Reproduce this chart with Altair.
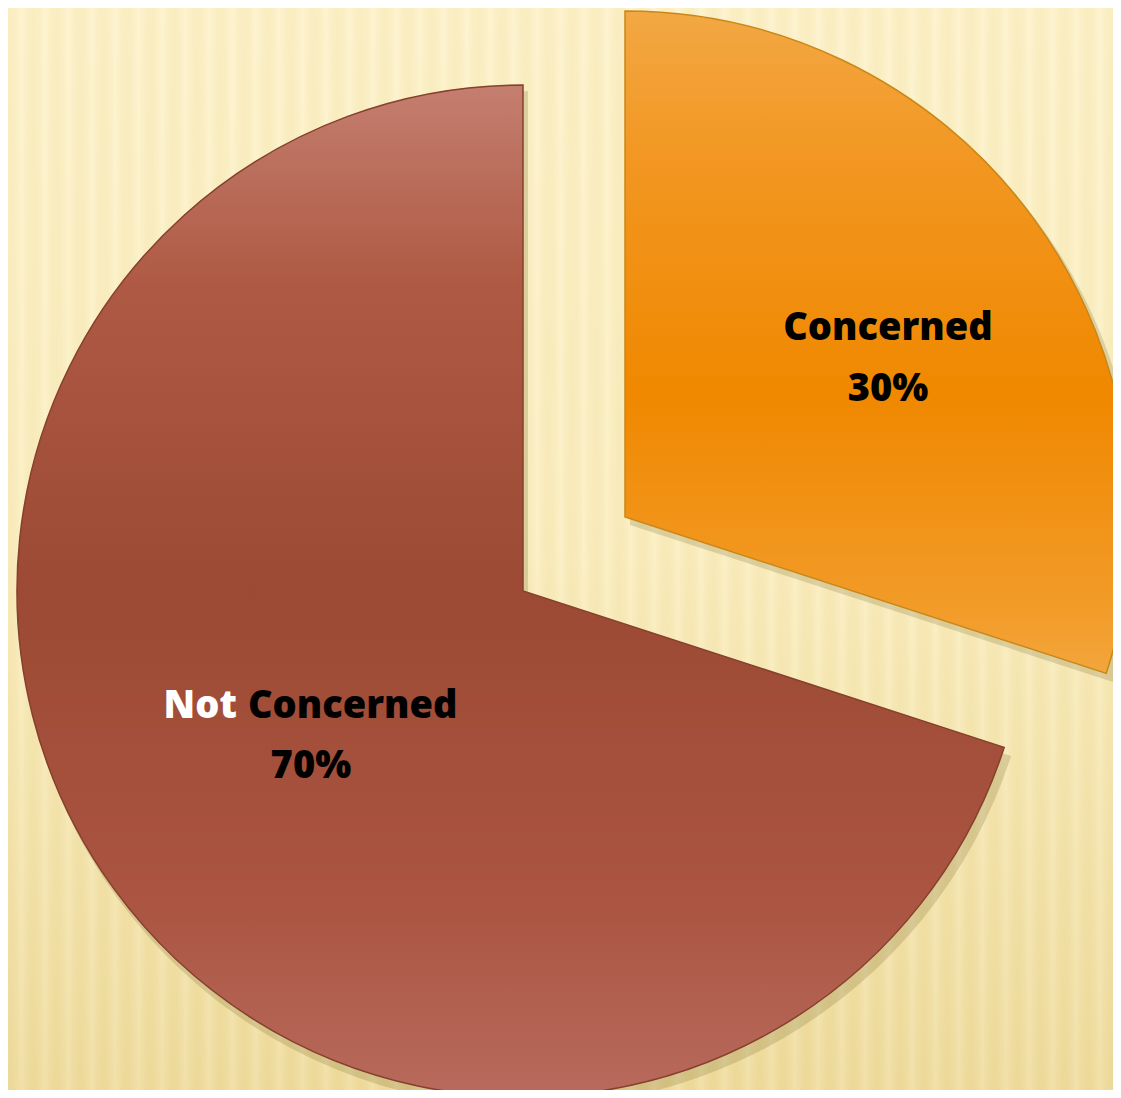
import altair as alt
import pandas as pd
import math

# ---- data ----
categories = ["Concerned", "Not Concerned"]
values = [30, 70]

df = pd.DataFrame({"category": categories, "value": values})
df["first"] = [c.split(" ")[0] if " " in c else "" for c in categories]
df["rest"] = [c.split(" ", 1)[1] if " " in c else c for c in categories]

W, H = 1105, 1082
R = 506
centers = {"Not Concerned": (515, 583), "Concerned": (617, 509)}

theta_scale = alt.Scale(domain=[0, 1], range=[0, 2 * math.pi])

base = (
    alt.Chart(df)
    .transform_joinaggregate(total="sum(value)")
    .transform_window(cum="sum(value)", frame=[None, 0])
    .transform_calculate(
        f_end="datum.cum / datum.total",
        f_start="(datum.cum - datum.value) / datum.total",
        f_mid="(datum.cum - datum.value / 2) / datum.total",
        pct="format(datum.value / datum.total, '.0%')",
    )
)

def grad_v(stops):
    return alt.LinearGradient(
        gradient="linear",
        stops=[alt.GradientStop(offset=o, color=c) for o, c in stops],
        x1=0, x2=0, y1=0, y2=1,
    )

# background
bg_df = pd.DataFrame({"k": [0]})
bg = alt.Chart(bg_df).mark_rect(
    color=grad_v([(0, "#fdf2c9"), (0.5, "#fbeebf"), (1, "#efdc9d")])
).encode(x=alt.value(-10), x2=alt.value(W + 10), y=alt.value(-10), y2=alt.value(H + 10))

stripe_stops = []
n = 48
for i in range(n):
    a = i / n
    stripe_stops.append(alt.GradientStop(offset=a, color="rgba(255,255,255,0.13)"))
    stripe_stops.append(alt.GradientStop(offset=a + 0.5 / n, color="rgba(190,160,70,0.06)"))
stripe_stops.append(alt.GradientStop(offset=1, color="rgba(255,255,255,0.13)"))
stripes = alt.Chart(bg_df).mark_rect(
    color=alt.LinearGradient(gradient="linear", stops=stripe_stops, x1=0, x2=1, y1=0, y2=0)
).encode(x=alt.value(-10), x2=alt.value(W + 10), y=alt.value(-10), y2=alt.value(H + 10))

layers = [bg, stripes]

fills = {
    "Not Concerned": grad_v([(0, "#c47e6f"), (0.2, "#ae5943"), (0.5, "#9c4a34"),
                             (0.8, "#aa5441"), (1, "#b86a5c")]),
    "Concerned": grad_v([(0, "#f2a844"), (0.22, "#f29722"), (0.58, "#f08800"),
                         (0.9, "#f29b28"), (1, "#f3a63c")]),
}
strokes = {"Not Concerned": "#86402c", "Concerned": "#c98716"}
bevels = {"Not Concerned": "#c8735f", "Concerned": "#fbb940"}

for cat in ["Not Concerned", "Concerned"]:
    cx, cy = centers[cat]
    sub = base.transform_filter(alt.datum.category == cat)
    shadow = sub.mark_arc(radius=R + 2, color="#6b5a20", opacity=0.2).encode(
        theta=alt.Theta("f_start:Q", scale=theta_scale), theta2="f_end:Q",
        x=alt.value(cx + 5), y=alt.value(cy + 8),
    )
    arc = sub.mark_arc(radius=R, color=fills[cat], stroke=strokes[cat], strokeWidth=1.5).encode(
        theta=alt.Theta("f_start:Q", scale=theta_scale), theta2="f_end:Q",
        x=alt.value(cx), y=alt.value(cy),
    )
    layers += [shadow, arc]

font = "Open Sans"
fs = 38
fw = 800

# Concerned labels
cx, cy = centers["Concerned"]
c_sub = base.transform_filter(alt.datum.category == "Concerned")
c_name = c_sub.mark_text(radius=325, font=font, fontSize=fs, fontWeight=fw,
                         color="#000000", baseline="alphabetic", dy=14).encode(
    theta=alt.Theta("f_mid:Q", scale=theta_scale), text="rest:N",
    x=alt.value(cx), y=alt.value(cy))
c_pct = c_sub.mark_text(radius=325, font=font, fontSize=fs, fontWeight=fw,
                        color="#000000", baseline="alphabetic", dy=75).encode(
    theta=alt.Theta("f_mid:Q", scale=theta_scale), text="pct:N",
    x=alt.value(cx), y=alt.value(cy))

# Not Concerned labels
nx, ny = centers["Not Concerned"]
n_sub = base.transform_filter(alt.datum.category == "Not Concerned")
n_first = n_sub.mark_text(radius=256, font=font, fontSize=fs, fontWeight=fw,
                          color="#ffffff", baseline="alphabetic", align="right",
                          dx=-79, dy=-23).encode(
    theta=alt.Theta("f_mid:Q", scale=theta_scale), text="first:N",
    x=alt.value(nx), y=alt.value(ny))
n_rest = n_sub.mark_text(radius=256, font=font, fontSize=fs, fontWeight=fw,
                         color="#000000", baseline="alphabetic", align="left",
                         dx=-68, dy=-23).encode(
    theta=alt.Theta("f_mid:Q", scale=theta_scale), text="rest:N",
    x=alt.value(nx), y=alt.value(ny))
n_pct = n_sub.mark_text(radius=256, font=font, fontSize=fs, fontWeight=fw,
                        color="#000000", baseline="alphabetic", dx=-5, dy=37).encode(
    theta=alt.Theta("f_mid:Q", scale=theta_scale), text="pct:N",
    x=alt.value(nx), y=alt.value(ny))

layers += [c_name, c_pct, n_first, n_rest, n_pct]

chart = alt.layer(*layers).properties(
    width=W, height=H, autosize=alt.AutoSizeParams(type="none"), padding=0,
    background="#fbeebf",
).configure_view(stroke=None)

chart.save("out.html", embed_options={"renderer": "svg", "actions": False})
